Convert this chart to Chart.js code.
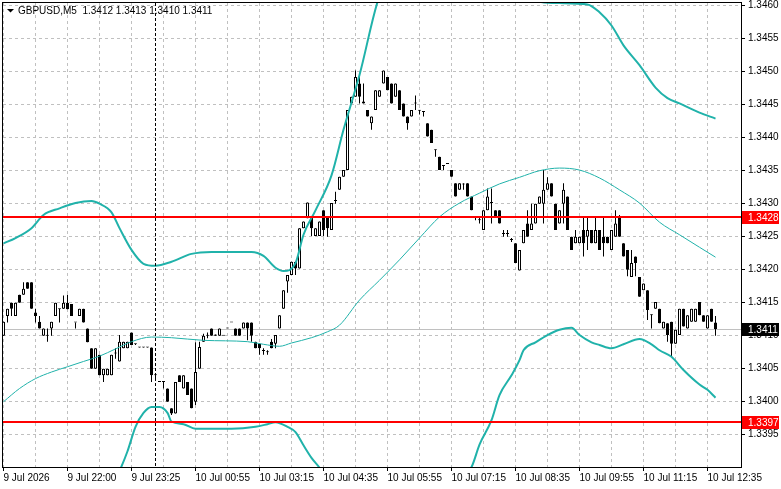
<!DOCTYPE html>
<html>
<head>
<meta charset="utf-8">
<title>GBPUSD,M5</title>
<script src="https://cdn.jsdelivr.net/npm/chart.js@4/dist/chart.umd.min.js"></script>
<style>
  html, body { margin: 0; padding: 0; background: #ffffff; }
  #wrap { width: 781px; height: 489px; }
</style>
</head>
<body>
<div id="wrap"><canvas id="chart" width="781" height="489"></canvas></div>
<script>
// ---- data ----
const symbolName = 'GBPUSD,M5';

// time labels, one every 16 bars
const timeLabels = ['9 Jul 2026', '9 Jul 22:00', '9 Jul 23:25', '10 Jul 00:55', '10 Jul 03:15', '10 Jul 04:35',
  '10 Jul 05:55', '10 Jul 07:15', '10 Jul 08:35', '10 Jul 09:55', '10 Jul 11:15', '10 Jul 12:35'];

const priceTicks = [1.3395, 1.3400, 1.3405, 1.3410, 1.3415, 1.3420, 1.3425, 1.3430,
  1.3435, 1.3440, 1.3445, 1.3450, 1.3455, 1.3460];

const open = [
  1.34100,1.34130,1.34150,1.34130,1.34162,1.34162,1.34181,1.34181,1.34135,1.34121,
  1.34100,1.34101,1.34111,1.34130,1.34141,1.34141,1.34150,1.34148,1.34120,1.34130,
  1.34141,1.34111,1.34081,1.34050,1.34071,1.34040,1.34040,1.34040,1.34074,1.34061,
  1.34081,1.34081,1.34105,1.34087,1.34082,1.34082,1.34082,1.34082,1.34040,1.34030,
  1.34030,1.34020,1.33990,1.33982,1.34040,1.34020,1.34030,1.34020,1.34000,1.34050,
  1.34091,1.34100,1.34111,1.34100,1.34100,1.34100,1.34111,1.34120,1.34111,1.34111,
  1.34111,1.34120,1.34120,1.34091,1.34088,1.34078,1.34076,1.34091,1.34088,1.34111,
  1.34141,1.34182,1.34192,1.34212,1.34202,1.34263,1.34278,1.34280,1.34251,1.34251,
  1.34290,1.34280,1.34260,1.34305,1.34321,1.34341,1.34351,1.34452,1.34462,1.34482,
  1.34455,1.34442,1.34422,1.34442,1.34462,1.34482,1.34492,1.34482,1.34462,1.34472,
  1.34452,1.34432,1.34432,1.34453,1.34442,1.34440,1.34422,1.34412,1.34382,1.34371,
  1.34358,1.34361,1.34351,1.34331,1.34321,1.34329,1.34331,1.34311,1.34280,1.34276,
  1.34260,1.34290,1.34302,1.34290,1.34290,1.34255,1.34255,1.34246,1.34240,1.34199,
  1.34240,1.34270,1.34260,1.34270,1.34300,1.34300,1.34321,1.34331,1.34300,1.34270,
  1.34300,1.34311,1.34250,1.34240,1.34240,1.34260,1.34250,1.34260,1.34240,1.34260,
  1.34250,1.34250,1.34230,1.34250,1.34280,1.34240,1.34230,1.34189,1.34220,1.34189,
  1.34169,1.34169,1.34132,1.34141,1.34141,1.34111,1.34119,1.34121,1.34088,1.34101,
  1.34141,1.34111,1.34121,1.34121,1.34151,1.34131,1.34111,1.34141,1.34120
];
const high = [
  1.34121,1.34141,1.34150,1.34150,1.34162,1.34181,1.34181,1.34181,1.34141,1.34130,
  1.34111,1.34111,1.34121,1.34150,1.34141,1.34161,1.34162,1.34148,1.34120,1.34141,
  1.34141,1.34111,1.34081,1.34081,1.34071,1.34050,1.34050,1.34071,1.34081,1.34101,
  1.34091,1.34091,1.34105,1.34088,1.34083,1.34083,1.34083,1.34082,1.34040,1.34030,
  1.34030,1.34020,1.33990,1.34030,1.34040,1.34040,1.34030,1.34020,1.34090,1.34091,
  1.34103,1.34105,1.34111,1.34102,1.34111,1.34100,1.34111,1.34120,1.34111,1.34111,
  1.34120,1.34120,1.34120,1.34091,1.34088,1.34081,1.34078,1.34095,1.34101,1.34131,
  1.34169,1.34192,1.34212,1.34212,1.34263,1.34273,1.34302,1.34280,1.34263,1.34273,
  1.34290,1.34280,1.34301,1.34318,1.34341,1.34351,1.34442,1.34462,1.34502,1.34492,
  1.34482,1.34442,1.34432,1.34472,1.34472,1.34502,1.34492,1.34482,1.34482,1.34472,
  1.34452,1.34432,1.34442,1.34464,1.34442,1.34440,1.34422,1.34412,1.34382,1.34371,
  1.34358,1.34361,1.34351,1.34331,1.34331,1.34331,1.34331,1.34311,1.34280,1.34280,
  1.34290,1.34323,1.34323,1.34290,1.34290,1.34260,1.34260,1.34248,1.34240,1.34230,
  1.34260,1.34290,1.34300,1.34300,1.34311,1.34351,1.34340,1.34331,1.34300,1.34290,
  1.34331,1.34311,1.34250,1.34260,1.34250,1.34280,1.34280,1.34260,1.34280,1.34260,
  1.34280,1.34250,1.34260,1.34290,1.34283,1.34240,1.34230,1.34230,1.34220,1.34189,
  1.34179,1.34169,1.34132,1.34151,1.34141,1.34121,1.34119,1.34121,1.34109,1.34141,
  1.34141,1.34131,1.34141,1.34141,1.34151,1.34131,1.34131,1.34141,1.34130
];
const low = [
  1.34100,1.34120,1.34130,1.34130,1.34150,1.34162,1.34171,1.34141,1.34120,1.34111,
  1.34100,1.34091,1.34100,1.34130,1.34120,1.34141,1.34140,1.34130,1.34111,1.34130,
  1.34120,1.34090,1.34050,1.34050,1.34040,1.34030,1.34040,1.34040,1.34065,1.34061,
  1.34081,1.34081,1.34086,1.34086,1.34082,1.34082,1.34082,1.34030,1.34034,1.34030,
  1.34020,1.34000,1.33980,1.33982,1.34030,1.34020,1.34010,1.33990,1.33995,1.34050,
  1.34091,1.34096,1.34100,1.34100,1.34100,1.34100,1.34111,1.34120,1.34100,1.34100,
  1.34111,1.34093,1.34091,1.34081,1.34071,1.34071,1.34071,1.34081,1.34081,1.34111,
  1.34141,1.34165,1.34192,1.34192,1.34202,1.34263,1.34278,1.34251,1.34251,1.34251,
  1.34251,1.34250,1.34260,1.34300,1.34321,1.34341,1.34351,1.34452,1.34462,1.34452,
  1.34452,1.34432,1.34412,1.34442,1.34462,1.34482,1.34472,1.34452,1.34462,1.34442,
  1.34432,1.34412,1.34432,1.34442,1.34435,1.34432,1.34402,1.34392,1.34371,1.34351,
  1.34351,1.34360,1.34341,1.34311,1.34321,1.34321,1.34311,1.34290,1.34275,1.34270,
  1.34260,1.34290,1.34270,1.34280,1.34270,1.34250,1.34250,1.34242,1.34210,1.34199,
  1.34240,1.34250,1.34260,1.34270,1.34300,1.34270,1.34321,1.34311,1.34260,1.34270,
  1.34270,1.34260,1.34230,1.34240,1.34240,1.34220,1.34230,1.34240,1.34240,1.34230,
  1.34220,1.34240,1.34230,1.34250,1.34250,1.34220,1.34190,1.34189,1.34190,1.34159,
  1.34169,1.34124,1.34111,1.34141,1.34119,1.34111,1.34091,1.34068,1.34088,1.34101,
  1.34114,1.34111,1.34121,1.34121,1.34131,1.34121,1.34111,1.34121,1.34100
];
const close = [
  1.34121,1.34141,1.34141,1.34150,1.34150,1.34171,1.34171,1.34141,1.34130,1.34111,
  1.34111,1.34100,1.34121,1.34150,1.34140,1.34150,1.34140,1.34130,1.34120,1.34141,
  1.34120,1.34090,1.34050,1.34081,1.34040,1.34050,1.34050,1.34071,1.34073,1.34091,
  1.34091,1.34091,1.34086,1.34087,1.34082,1.34082,1.34082,1.34040,1.34040,1.34030,
  1.34030,1.34000,1.33982,1.34030,1.34030,1.34040,1.34010,1.33990,1.34045,1.34083,
  1.34100,1.34101,1.34100,1.34102,1.34111,1.34100,1.34111,1.34120,1.34100,1.34100,
  1.34120,1.34111,1.34100,1.34081,1.34081,1.34077,1.34075,1.34081,1.34101,1.34131,
  1.34169,1.34192,1.34212,1.34202,1.34263,1.34273,1.34302,1.34263,1.34263,1.34273,
  1.34260,1.34263,1.34301,1.34304,1.34341,1.34351,1.34442,1.34462,1.34492,1.34462,
  1.34452,1.34432,1.34432,1.34472,1.34472,1.34502,1.34472,1.34452,1.34482,1.34442,
  1.34432,1.34422,1.34442,1.34452,1.34441,1.34439,1.34402,1.34392,1.34381,1.34351,
  1.34357,1.34360,1.34341,1.34311,1.34331,1.34330,1.34311,1.34290,1.34280,1.34275,
  1.34290,1.34311,1.34301,1.34280,1.34270,1.34254,1.34254,1.34245,1.34210,1.34230,
  1.34260,1.34250,1.34270,1.34300,1.34311,1.34321,1.34331,1.34311,1.34260,1.34290,
  1.34321,1.34260,1.34230,1.34250,1.34250,1.34240,1.34260,1.34240,1.34260,1.34230,
  1.34240,1.34240,1.34260,1.34270,1.34250,1.34220,1.34200,1.34210,1.34210,1.34159,
  1.34179,1.34139,1.34131,1.34151,1.34119,1.34121,1.34101,1.34088,1.34109,1.34141,
  1.34114,1.34131,1.34141,1.34141,1.34131,1.34121,1.34131,1.34121,1.34110
];

// bands, sampled at bar indices
const middleIdx = [0,4,8,12,16,20,24,28,32,37,42,50,61,65,69,72,77,81,84,89,94,99,104,109,114,119,124,129,134,139,144,149,154,159,164,169,174,178];
const middleVal = [1.34000,1.34020,1.34035,1.34045,1.34053,1.34061,1.34069,1.34080,1.34091,1.34098,1.34097,1.34093,1.34091,1.34087,1.34084,1.34089,1.34097,1.34106,1.34116,1.34154,1.34184,1.34215,1.34248,1.34280,1.34301,1.34316,1.34330,1.34340,1.34350,1.34354,1.34351,1.34339,1.34321,1.34301,1.34272,1.34253,1.34234,1.34219];

const upperIdx = [0,3,7,10,14,18,22,24,27,29,32,35,38,42,47,52,62,65,68,70,73,75,78,82,85,89,94,99,104,109,114,119,124,129,134,139,146,149,152,155,159,163,166,169,174,178];
const upperVal = [1.34240,1.34248,1.34263,1.34283,1.34293,1.34301,1.34304,1.34300,1.34287,1.34263,1.34230,1.34209,1.34206,1.34212,1.34224,1.34227,1.34227,1.34221,1.34203,1.34198,1.34210,1.34253,1.34290,1.34343,1.34412,1.34495,1.34615,1.34660,1.34680,1.34700,1.34710,1.34700,1.34660,1.34620,1.34606,1.34604,1.34602,1.34590,1.34570,1.34540,1.34510,1.34476,1.34460,1.34452,1.34438,1.34429];

const lowerIdx = [0,7,14,22,27,29,31,33,35,37,39,41,42,45,48,57,63,66,68,71,73,75,77,79,84,89,94,99,104,109,114,117,119,122,124,127,129,130,133,136,139,142,144,147,149,152,155,159,162,164,167,170,174,176,178];
const lowerVal = [1.33760,1.33810,1.33810,1.33830,1.33870,1.33895,1.33925,1.33962,1.33983,1.33992,1.33992,1.33983,1.33970,1.33966,1.33959,1.33959,1.33962,1.33966,1.33969,1.33962,1.33954,1.33934,1.33915,1.33900,1.33850,1.33810,1.33780,1.33770,1.33810,1.33860,1.33885,1.33901,1.33935,1.33972,1.34010,1.34040,1.34063,1.34078,1.34090,1.34101,1.34109,1.34112,1.34101,1.34090,1.34086,1.34081,1.34087,1.34095,1.34087,1.34078,1.34068,1.34048,1.34026,1.34018,1.34006];

const levelPrices = [1.3428, 1.3397];
const bidPrice = 1.3411;
const separatorIdx = [38];

// ---- view ----
const priceMin = 1.339011;
const priceMax = 1.346041;
const barMin = -0.125;
const barMax = 184.375;
const fontFamily = "'Liberation Sans', Arial, sans-serif";
const bandColor = '#20b2aa';

const bars = open.map((_, i) => i);
const gridBars = [];
for (let i = 0; i <= 176; i += 8) gridBars.push(i);

const toPoints = (idx, val) => idx.map((x, k) => ({ x, y: val[k] }));

const overlay = {
  id: 'overlay',
  beforeDatasetsDraw(chart) {
    const { ctx, chartArea: a, scales: { y } } = chart;
    ctx.save();
    const yb = Math.round(y.getPixelForValue(bidPrice)) + 0.5;
    ctx.strokeStyle = '#c0c0c0';
    ctx.lineWidth = 1;
    ctx.beginPath();
    ctx.moveTo(a.left, yb);
    ctx.lineTo(a.right, yb);
    ctx.stroke();
    ctx.restore();
  },
  afterDatasetsDraw(chart) {
    const { ctx, chartArea: a, scales: { x, y } } = chart;
    ctx.save();
    ctx.fillStyle = '#ff0000';
    levelPrices.forEach(p => {
      const yy = Math.round(y.getPixelForValue(p));
      ctx.fillRect(a.left, yy - 1, a.right - a.left, 2);
    });
    ctx.strokeStyle = '#000000';
    ctx.lineWidth = 1;
    ctx.setLineDash([3, 2]);
    separatorIdx.forEach(i => {
      const xx = Math.floor(x.getPixelForValue(i)) + 0.5;
      ctx.beginPath();
      ctx.moveTo(xx, a.top);
      ctx.lineTo(xx, a.bottom);
      ctx.stroke();
    });
    ctx.restore();
  },
  afterDraw(chart) {
    const { ctx, chartArea: a, scales: { y } } = chart;
    ctx.save();
    // frame
    ctx.strokeStyle = '#000000';
    ctx.lineWidth = 1;
    ctx.strokeRect(a.left - 0.5, a.top - 0.5, a.right - a.left + 1, a.bottom - a.top + 1);

    // price tags on the right axis
    const tag = (p, bg) => {
      const yy = Math.round(y.getPixelForValue(p));
      ctx.fillStyle = bg;
      ctx.fillRect(a.right + 1, yy - 6, 37, 13);
      ctx.fillStyle = '#ffffff';
      ctx.font = '10px ' + fontFamily;
      ctx.textAlign = 'left';
      ctx.textBaseline = 'middle';
      ctx.fillText(p.toFixed(4), a.right + 7, yy + 1);
    };
    levelPrices.forEach(p => tag(p, '#ff0000'));
    tag(bidPrice, '#000000');

    // title
    const last = open.length - 1;
    ctx.fillStyle = '#000000';
    ctx.beginPath();
    ctx.moveTo(7, 9);
    ctx.lineTo(14, 9);
    ctx.lineTo(10.5, 12.5);
    ctx.closePath();
    ctx.fill();
    ctx.font = '10px ' + fontFamily;
    ctx.textAlign = 'left';
    ctx.textBaseline = 'middle';
    const head = symbolName + '  ' + [open[last], high[last], low[last], close[last]].map(v => v.toFixed(4)).join(' ');
    ctx.fillText(head, 18, 11);
    ctx.restore();
  }
};

new Chart(document.getElementById('chart'), {
  data: {
    datasets: [
      {
        type: 'line', label: 'upper', order: 0,
        data: toPoints(upperIdx, upperVal),
        borderColor: bandColor, borderWidth: 2, pointRadius: 0,
        cubicInterpolationMode: 'monotone'
      },
      {
        type: 'line', label: 'lower', order: 0,
        data: toPoints(lowerIdx, lowerVal),
        borderColor: bandColor, borderWidth: 2, pointRadius: 0,
        cubicInterpolationMode: 'monotone'
      },
      {
        type: 'line', label: 'middle', order: 0,
        data: toPoints(middleIdx, middleVal),
        borderColor: bandColor, borderWidth: 1, pointRadius: 0,
        cubicInterpolationMode: 'monotone'
      },
      {
        type: 'bar', label: 'body', order: 1, grouped: false,
        data: bars.map(i => ({ x: i, y: [open[i], close[i]] })),
        backgroundColor: bars.map(i => close[i] > open[i] ? '#ffffff' : '#000000'),
        borderColor: '#000000', borderWidth: 1, borderSkipped: false,
        barThickness: 3, minBarLength: 1, inflateAmount: 0
      },
      {
        type: 'bar', label: 'wick', order: 2, grouped: false,
        data: bars.map(i => ({ x: i, y: [low[i], high[i]] })),
        backgroundColor: '#000000', borderWidth: 0,
        barThickness: 1, minBarLength: 0, inflateAmount: 0
      }
    ]
  },
  options: {
    responsive: false,
    devicePixelRatio: 1,
    animation: false,
    events: [],
    layout: { padding: { left: 3, top: 3, right: 0, bottom: 0 } },
    plugins: { legend: { display: false }, tooltip: { enabled: false } },
    scales: {
      x: {
        type: 'linear', position: 'bottom', min: barMin, max: barMax,
        offset: false,
        afterBuildTicks: s => { s.ticks = gridBars.map(v => ({ value: v })); },
        afterFit: s => { s.height = 22; s.paddingLeft = 0; s.paddingRight = 0; },
        grid: {
          offset: false, color: '#c0c0c0', lineWidth: 1,
          drawTicks: true, tickLength: 4,
          tickColor: c => (c.tick && c.tick.value % 16 === 0) ? '#000000' : 'rgba(0,0,0,0)'
        },
        border: { display: false, dash: [3, 3] },
        ticks: {
          autoSkip: false, maxRotation: 0, minRotation: 0, align: 'start', padding: 1,
          color: '#000000', font: { family: fontFamily, size: 10 },
          callback: v => (v % 16 === 0 && timeLabels[v / 16]) ? timeLabels[v / 16] : ''
        }
      },
      y: {
        type: 'linear', position: 'right', min: priceMin, max: priceMax,
        afterBuildTicks: s => { s.ticks = priceTicks.map(v => ({ value: v })); },
        afterFit: s => { s.width = 40; s.paddingTop = 0; s.paddingBottom = 0; },
        grid: { color: '#c0c0c0', lineWidth: 1, drawTicks: true, tickLength: 4, tickColor: '#000000' },
        border: { display: false, dash: [3, 3] },
        ticks: {
          padding: 3, color: '#000000', font: { family: fontFamily, size: 10 },
          callback: v => v.toFixed(4)
        }
      }
    }
  },
  plugins: [overlay]
});
</script>
</body>
</html>
